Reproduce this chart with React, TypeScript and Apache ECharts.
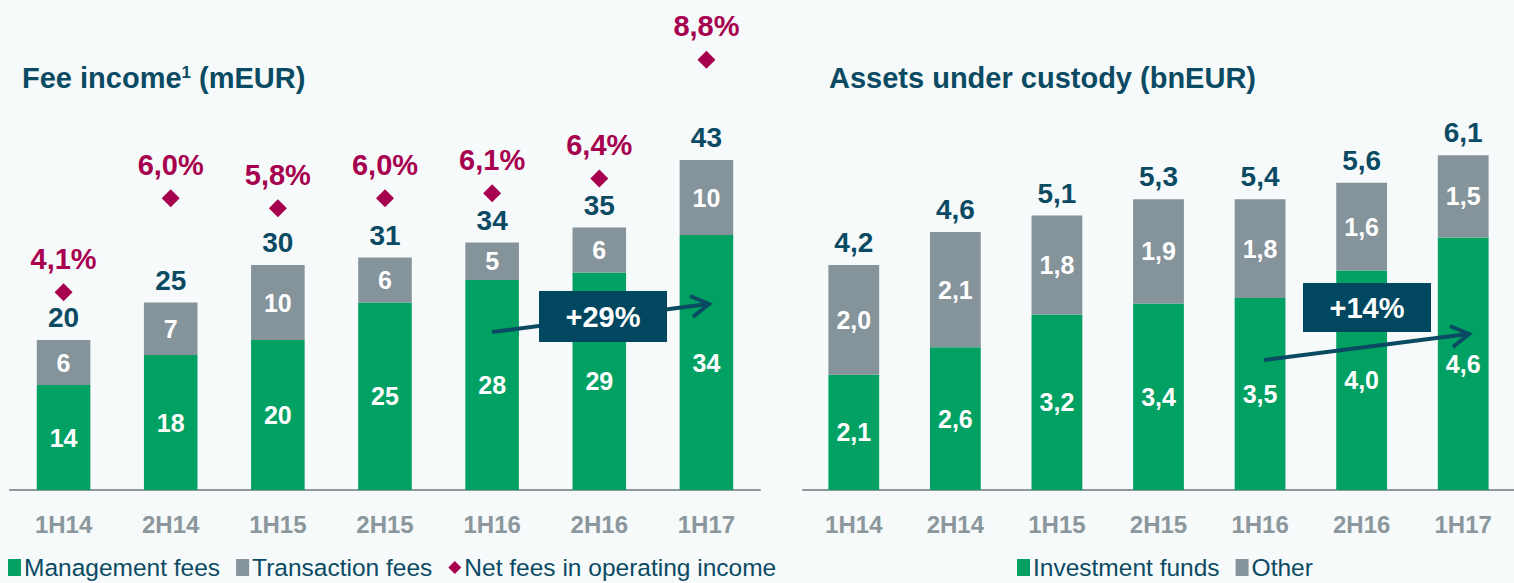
import React, { useEffect, useRef } from "react";
import * as echarts from "echarts";

const categories = ["1H14", "2H14", "1H15", "2H15", "1H16", "2H16", "1H17"];
const managementFees = [14, 18, 20, 25, 28, 29, 34];
const transactionFees = [6, 7, 10, 6, 5, 6, 10];
const feeTotals = [20, 25, 30, 31, 34, 35, 43];
const netFeesPct = [4.1, 6.0, 5.8, 6.0, 6.1, 6.4, 8.8];
const investmentFunds = [2.1, 2.6, 3.2, 3.4, 3.5, 4.0, 4.6];
const otherAssets = [2.0, 2.1, 1.8, 1.9, 1.8, 1.6, 1.5];
const custodyTotals = [4.2, 4.6, 5.1, 5.3, 5.4, 5.6, 6.1];
const feeGrowth = "+29%";
const custodyGrowth = "+14%";

const FONT = "'Liberation Sans', Arial, Helvetica, sans-serif";
const GREEN = "#00a162";
const GRAY = "#85939a";
const TEAL = "#0b4a63";
const BOX = "#00475f";
const MAGENTA = "#a6004f";
const AXIS_TXT = "#8b979c";
const BG = "#f7fafa";

const comma = (v: number) => v.toFixed(1).replace(".", ",");

export default function App() {
  const ref = useRef<HTMLDivElement>(null);
  useEffect(() => {
    if (!ref.current) return;
    const chart = echarts.init(ref.current, undefined, { renderer: "svg" });
    const feeSums = managementFees.map((v, i) => v + transactionFees[i]);
    const custodySums = investmentFunds.map((v, i) => +(v + otherAssets[i]).toFixed(2));

    const innerLabel = (fmt: (v: number) => string) => ({
      show: true,
      position: "inside" as const,
      color: "#ffffff",
      fontFamily: FONT,
      fontWeight: "bold" as const,
      fontSize: 25,
      formatter: (p: any) => fmt(p.value),
    });

    const xAxisBase = {
      type: "category" as const,
      data: categories,
      axisTick: { show: false },
      axisLine: { lineStyle: { color: "#8e999e", width: 2 } },
      axisLabel: {
        color: AXIS_TXT,
        fontSize: 24,
        fontWeight: "bold" as const,
        fontFamily: FONT,
        margin: 22,
      },
    };

    const legendText = { fontFamily: FONT, fontSize: 24.5, color: TEAL, padding: [0, 0, 0, -2] };

    const option: any = {
      animation: false,
      backgroundColor: BG,
      textStyle: { fontFamily: FONT },
      title: [
        {
          text: "Fee income{sup|1} (mEUR)",
          left: 22,
          top: 63,
          padding: 0,
          textStyle: {
            fontFamily: FONT,
            fontSize: 29,
            fontWeight: "bold",
            color: TEAL,
            rich: {
              sup: {
                fontFamily: FONT,
                fontSize: 17,
                fontWeight: "bold",
                color: TEAL,
                padding: [0, 0, 10, 0],
              },
            },
          },
        },
        {
          text: "Assets under custody (bnEUR)",
          left: 829,
          top: 63,
          padding: 0,
          textStyle: { fontFamily: FONT, fontSize: 29, fontWeight: "bold", color: TEAL },
        },
      ],
      legend: [
        {
          left: 8,
          top: 555,
          itemWidth: 13,
          itemHeight: 17,
          itemGap: 16,
          padding: 0,
          textStyle: legendText,
          data: [
            { name: "Management fees", icon: "rect" },
            { name: "Transaction fees", icon: "rect" },
            { name: "Net fees in operating income", icon: "path://M5,0 L10,5 L5,10 L0,5 Z" },
          ],
        },
        {
          left: 1017,
          top: 555,
          itemWidth: 13,
          itemHeight: 17,
          itemGap: 16,
          padding: 0,
          textStyle: legendText,
          data: [
            { name: "Investment funds", icon: "rect" },
            { name: "Other", icon: "rect" },
          ],
        },
      ],
      grid: [
        { left: 10, width: 750, top: 40, height: 450 },
        { left: 803, width: 716, top: 40, height: 450 },
      ],
      xAxis: [
        { ...xAxisBase, gridIndex: 0 },
        { ...xAxisBase, gridIndex: 1 },
      ],
      yAxis: [
        { type: "value", gridIndex: 0, min: 0, max: 60, show: false, splitLine: { show: false } },
        { type: "value", gridIndex: 0, min: 0.1, max: 9.2, show: false, splitLine: { show: false } },
        { type: "value", gridIndex: 1, min: 0, max: 8.2, show: false, splitLine: { show: false } },
      ],
      series: [
        {
          name: "Management fees",
          type: "bar",
          stack: "fees",
          xAxisIndex: 0,
          yAxisIndex: 0,
          barWidth: "50%",
          itemStyle: { color: GREEN },
          label: innerLabel((v) => String(v)),
          data: managementFees,
        },
        {
          name: "Transaction fees",
          type: "bar",
          stack: "fees",
          xAxisIndex: 0,
          yAxisIndex: 0,
          barWidth: "50%",
          itemStyle: { color: GRAY },
          label: innerLabel((v) => String(v)),
          data: transactionFees,
        },
        {
          name: "feeTotals",
          type: "scatter",
          xAxisIndex: 0,
          yAxisIndex: 0,
          symbol: "rect",
          symbolSize: 1,
          itemStyle: { color: "rgba(0,0,0,0)", opacity: 1 },
          label: {
            show: true,
            position: "top",
            distance: 8,
            color: TEAL,
            fontFamily: FONT,
            fontWeight: "bold",
            fontSize: 28,
            formatter: (p: any) => String(feeTotals[p.dataIndex]),
          },
          data: feeSums,
          z: 5,
        },
        {
          name: "Net fees in operating income",
          type: "scatter",
          xAxisIndex: 0,
          yAxisIndex: 1,
          symbol: "diamond",
          symbolSize: 18,
          itemStyle: { color: MAGENTA, opacity: 1 },
          label: {
            show: true,
            position: "top",
            distance: 10,
            color: MAGENTA,
            fontFamily: FONT,
            fontWeight: "bold",
            fontSize: 29,
            formatter: (p: any) => comma(p.value) + "%",
          },
          data: netFeesPct,
          z: 5,
        },
        {
          name: "Investment funds",
          type: "bar",
          stack: "custody",
          xAxisIndex: 1,
          yAxisIndex: 2,
          barWidth: "50%",
          itemStyle: { color: GREEN },
          label: innerLabel(comma),
          data: investmentFunds,
        },
        {
          name: "Other",
          type: "bar",
          stack: "custody",
          xAxisIndex: 1,
          yAxisIndex: 2,
          barWidth: "50%",
          itemStyle: { color: GRAY },
          label: innerLabel(comma),
          data: otherAssets,
        },
        {
          name: "custodyTotals",
          type: "scatter",
          xAxisIndex: 1,
          yAxisIndex: 2,
          symbol: "rect",
          symbolSize: 1,
          itemStyle: { color: "rgba(0,0,0,0)", opacity: 1 },
          label: {
            show: true,
            position: "top",
            distance: 8,
            color: TEAL,
            fontFamily: FONT,
            fontWeight: "bold",
            fontSize: 28,
            formatter: (p: any) => comma(custodyTotals[p.dataIndex]),
          },
          data: custodySums,
          z: 5,
        },
      ],
      graphic: [
        {
          type: "line",
          z: 100,
          shape: { x1: 492, y1: 332, x2: 708, y2: 304 },
          style: { stroke: TEAL, lineWidth: 4 },
        },
        {
          type: "polyline",
          z: 100,
          shape: { points: [[690, 296], [709, 304], [693, 317]] },
          style: { stroke: TEAL, lineWidth: 4, fill: null },
        },
        {
          type: "rect",
          z: 101,
          shape: { x: 539, y: 291, width: 128, height: 51 },
          style: { fill: BOX },
        },
        {
          type: "text",
          z: 102,
          x: 603,
          y: 317,
          style: {
            text: feeGrowth,
            fill: "#ffffff",
            font: `bold 29px ${FONT}`,
            align: "center",
            verticalAlign: "middle",
          },
        },
        {
          type: "line",
          z: 100,
          shape: { x1: 1264, y1: 360, x2: 1468, y2: 334 },
          style: { stroke: TEAL, lineWidth: 4 },
        },
        {
          type: "polyline",
          z: 100,
          shape: { points: [[1450, 326], [1469, 334], [1453, 347]] },
          style: { stroke: TEAL, lineWidth: 4, fill: null },
        },
        {
          type: "rect",
          z: 101,
          shape: { x: 1303, y: 283, width: 128, height: 49 },
          style: { fill: BOX },
        },
        {
          type: "text",
          z: 102,
          x: 1367,
          y: 308,
          style: {
            text: custodyGrowth,
            fill: "#ffffff",
            font: `bold 29px ${FONT}`,
            align: "center",
            verticalAlign: "middle",
          },
        },
      ],
    };
    chart.setOption(option);
    return () => chart.dispose();
  }, []);

  return (
    <div
      ref={ref}
      style={{ position: "fixed", left: 0, top: 0, width: 1514, height: 583, background: BG }}
    />
  );
}
